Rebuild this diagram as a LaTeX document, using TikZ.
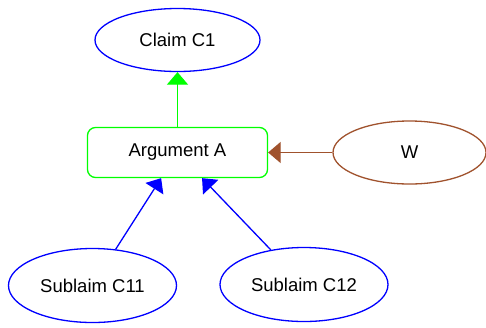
\documentclass[tikz,border=0pt]{standalone}
\usepackage{fontspec}
\setmainfont{Liberation Sans}
\usetikzlibrary{arrows.meta,shapes.geometric}
\definecolor{gvblue}{RGB}{0,0,255}
\definecolor{gvgreen}{RGB}{0,255,0}
\definecolor{gvsienna}{RGB}{160,82,45}
\begin{document}
\begin{tikzpicture}[x=1pt,y=-1pt,
  every node/.style={font=\fontsize{18.5}{22}\selectfont, inner sep=0pt},
  ell/.style={ellipse, draw=gvblue, line width=1.3pt},
  argbox/.style={rectangle, rounded corners=8pt, draw=gvgreen, line width=1.3pt, minimum width=180pt, minimum height=50pt},
  edge/.style={line width=1.3pt, -{Triangle[length=12.5pt,width=21pt]}}
]
\useasboundingbox (0,0) rectangle (486,327);
\node[ell, minimum width=165pt, minimum height=63pt] (claim) at (177.5,40) {Claim C1};
\node[argbox] (arg) at (177.5,152.5) {Argument A};
\node[ell, draw=gvsienna, minimum width=153pt, minimum height=63pt] (w) at (409.5,152.5) {W};
\node[ell, minimum width=168pt, minimum height=74pt] (c11) at (92.5,285.5) {Sublaim C11};
\node[ell, minimum width=168pt, minimum height=74pt] (c12) at (304,284.5) {Sublaim C12};
\draw[edge, draw=gvgreen, fill=gvgreen] (arg) -- (claim);
\draw[edge, draw=gvsienna, fill=gvsienna] (w) -- (arg);
\draw[edge, draw=gvblue, fill=gvblue] (c11) -- (arg);
\draw[edge, draw=gvblue, fill=gvblue] (c12) -- (arg);
\end{tikzpicture}
\end{document}
